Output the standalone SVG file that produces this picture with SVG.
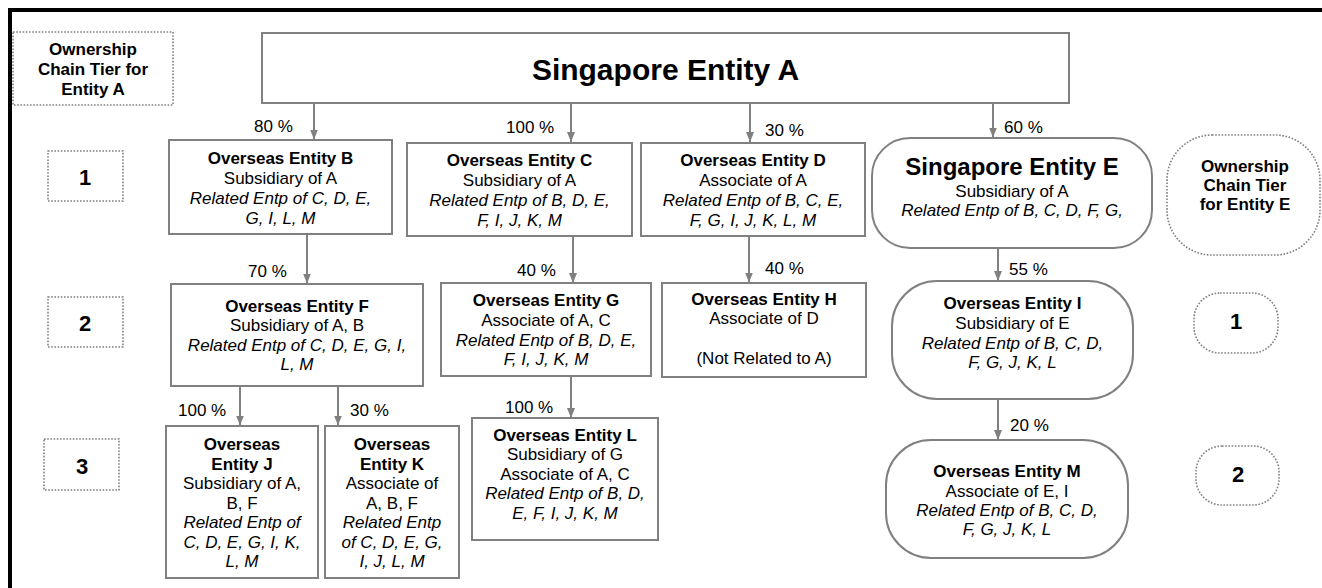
<svg xmlns="http://www.w3.org/2000/svg" width="1322" height="588" viewBox="0 0 1322 588">
<style>
text{font-family:"Liberation Sans",Arial,sans-serif;fill:#000;text-anchor:middle}
.b{font-weight:bold;font-size:17px}
.r{font-size:17px}
.i{font-size:17px;font-style:italic}
.p{font-size:17px;text-anchor:start}
.t{font-weight:bold;font-size:22px}
.box{fill:#fff;stroke:#808080;stroke-width:2}
.tier{fill:#fff;stroke:#808080;stroke-width:1.6;stroke-dasharray:1.6 1.6}
.con line{stroke:#808080;stroke-width:2;marker-end:url(#ah)}
</style>
<defs>
<marker id="ah" viewBox="0 0 10 8" refX="10" refY="4" markerWidth="10" markerHeight="8" markerUnits="userSpaceOnUse" orient="auto">
<path d="M0,0 L10,4 L0,8 z" fill="#808080"/>
</marker>
</defs>
<rect width="1322" height="588" fill="#fff"/>
<path d="M10,588 V10 H1322" fill="none" stroke="#000" stroke-width="4"/>

<g id="tierA">
<rect class="tier" x="13" y="32" width="160" height="73"/>
<text class="b" x="93" y="55">Ownership</text>
<text class="b" x="93" y="75">Chain Tier for</text>
<text class="b" x="93" y="95">Entity A</text>
</g>
<g id="tierA1"><rect class="tier" x="48" y="151" width="75" height="50"/><text class="t" x="85" y="185">1</text></g>
<g id="tierA2"><rect class="tier" x="48" y="297" width="75" height="50"/><text class="t" x="85" y="331">2</text></g>
<g id="tierA3"><rect class="tier" x="44" y="439" width="75" height="51"/><text class="t" x="82" y="474">3</text></g>

<g id="tierE">
<rect class="tier" x="1167" y="135" width="153" height="120" rx="45"/>
<text class="b" x="1245" y="172">Ownership</text>
<text class="b" x="1245" y="191">Chain Tier</text>
<text class="b" x="1245" y="210">for Entity E</text>
</g>
<g id="tierE1"><rect class="tier" x="1194" y="293" width="84" height="60" rx="26"/><text class="t" x="1236" y="329">1</text></g>
<g id="tierE2"><rect class="tier" x="1196" y="446" width="83" height="59" rx="26"/><text class="t" x="1238" y="482">2</text></g>

<g id="entityA">
<rect class="box" x="262" y="33" width="807" height="70"/>
<text x="665.5" y="80" style="font-weight:bold;font-size:30px">Singapore Entity A</text>
</g>

<g id="entityB">
<rect class="box" x="169" y="140" width="223" height="94"/>
<text class="b" x="280.5" y="164">Overseas Entity B</text>
<text class="r" x="280.5" y="184">Subsidiary of A</text>
<text class="i" x="280.5" y="204">Related Entp of C, D, E,</text>
<text class="i" x="280.5" y="224">G, I, L, M</text>
</g>

<g id="entityC">
<rect class="box" x="407" y="143" width="225" height="93"/>
<text class="b" x="519.5" y="165.5">Overseas Entity C</text>
<text class="r" x="519.5" y="185.5">Subsidiary of A</text>
<text class="i" x="519.5" y="205.5">Related Entp of B, D, E,</text>
<text class="i" x="519.5" y="225.5">F, I, J, K, M</text>
</g>

<g id="entityD">
<rect class="box" x="641" y="143" width="224" height="93"/>
<text class="b" x="753" y="165.5">Overseas Entity D</text>
<text class="r" x="753" y="185.5">Associate of A</text>
<text class="i" x="753" y="205.5">Related Entp of B, C, E,</text>
<text class="i" x="753" y="225.5">F, G, I, J, K, L, M</text>
</g>

<g id="entityE">
<rect class="box" x="872" y="138" width="280" height="110" rx="38"/>
<text x="1012" y="175" style="font-weight:bold;font-size:24px">Singapore Entity E</text>
<text class="r" x="1012" y="197">Subsidiary of A</text>
<text class="i" x="1012" y="215.5">Related Entp of B, C, D, F, G,</text>
</g>

<g id="entityF">
<rect class="box" x="171" y="284" width="252" height="102"/>
<text class="b" x="297" y="311.5">Overseas Entity F</text>
<text class="r" x="297" y="331">Subsidiary of A, B</text>
<text class="i" x="297" y="350.5">Related Entp of C, D, E, G, I,</text>
<text class="i" x="297" y="370">L, M</text>
</g>

<g id="entityG">
<rect class="box" x="441" y="283" width="210" height="93"/>
<text class="b" x="546" y="306">Overseas Entity G</text>
<text class="r" x="546" y="326">Associate of A, C</text>
<text class="i" x="546" y="345.5">Related Entp of B, D, E,</text>
<text class="i" x="546" y="365">F, I, J, K, M</text>
</g>

<g id="entityH">
<rect class="box" x="662" y="283" width="204" height="94"/>
<text class="b" x="764" y="304.5">Overseas Entity H</text>
<text class="r" x="764" y="324">Associate of D</text>
<text class="r" x="764" y="363.5">(Not Related to A)</text>
</g>

<g id="entityI">
<rect class="box" x="892" y="281" width="241" height="118" rx="45"/>
<text class="b" x="1012.5" y="308.5">Overseas Entity I</text>
<text class="r" x="1012.5" y="328.5">Subsidiary of E</text>
<text class="i" x="1012.5" y="348.5">Related Entp of B, C, D,</text>
<text class="i" x="1012.5" y="368">F, G, J, K, L</text>
</g>

<g id="entityJ">
<rect class="box" x="166" y="426" width="152" height="152"/>
<text class="b" x="242" y="450">Overseas</text>
<text class="b" x="242" y="469.5">Entity J</text>
<text class="r" x="242" y="489">Subsidiary of A,</text>
<text class="r" x="242" y="508.5">B, F</text>
<text class="i" x="242" y="528">Related Entp of</text>
<text class="i" x="242" y="547.5">C, D, E, G, I, K,</text>
<text class="i" x="242" y="567">L, M</text>
</g>

<g id="entityK">
<rect class="box" x="325" y="426" width="134" height="152"/>
<text class="b" x="392" y="450">Overseas</text>
<text class="b" x="392" y="469.5">Entity K</text>
<text class="r" x="392" y="489">Associate of</text>
<text class="r" x="392" y="508.5">A, B, F</text>
<text class="i" x="392" y="528">Related Entp</text>
<text class="i" x="392" y="547.5">of C, D, E, G,</text>
<text class="i" x="392" y="567">I, J, L, M</text>
</g>

<g id="entityL">
<rect class="box" x="472" y="418" width="186" height="122"/>
<text class="b" x="565" y="440.5">Overseas Entity L</text>
<text class="r" x="565" y="460">Subsidiary of G</text>
<text class="r" x="565" y="479.5">Associate of A, C</text>
<text class="i" x="565" y="499">Related Entp of B, D,</text>
<text class="i" x="565" y="518.5">E, F, I, J, K, M</text>
</g>

<g id="entityM">
<rect class="box" x="886" y="440" width="242" height="118" rx="45"/>
<text class="b" x="1007" y="476.5">Overseas Entity M</text>
<text class="r" x="1007" y="496.5">Associate of E, I</text>
<text class="i" x="1007" y="516">Related Entp of B, C, D,</text>
<text class="i" x="1007" y="535">F, G, J, K, L</text>
</g>

<g id="connectors" class="con">
<line x1="314" y1="104" x2="314" y2="139.5"/>
<line x1="571" y1="104" x2="571" y2="142"/>
<line x1="750" y1="104" x2="750" y2="142"/>
<line x1="993" y1="104" x2="993" y2="137.5"/>
<line x1="307" y1="235" x2="307" y2="283.5"/>
<line x1="573" y1="237" x2="573" y2="283"/>
<line x1="749" y1="237" x2="749" y2="282.5"/>
<line x1="998" y1="249" x2="998" y2="281"/>
<line x1="240" y1="387" x2="240" y2="425.5"/>
<line x1="338" y1="387" x2="338" y2="425.5"/>
<line x1="571" y1="377" x2="571" y2="418"/>
<line x1="998" y1="400" x2="998" y2="440"/>
<g id="labels">
<text class="p" x="254" y="132">80 %</text>
<text class="p" x="506" y="133">100 %</text>
<text class="p" x="765" y="136">30 %</text>
<text class="p" x="1004" y="133">60 %</text>
<text class="p" x="248" y="277">70 %</text>
<text class="p" x="517" y="276">40 %</text>
<text class="p" x="765" y="274">40 %</text>
<text class="p" x="1009" y="275">55 %</text>
<text class="p" x="178" y="416">100 %</text>
<text class="p" x="350" y="416">30 %</text>
<text class="p" x="505" y="413">100 %</text>
<text class="p" x="1010" y="431">20 %</text>
</g>
</g>
</svg>
